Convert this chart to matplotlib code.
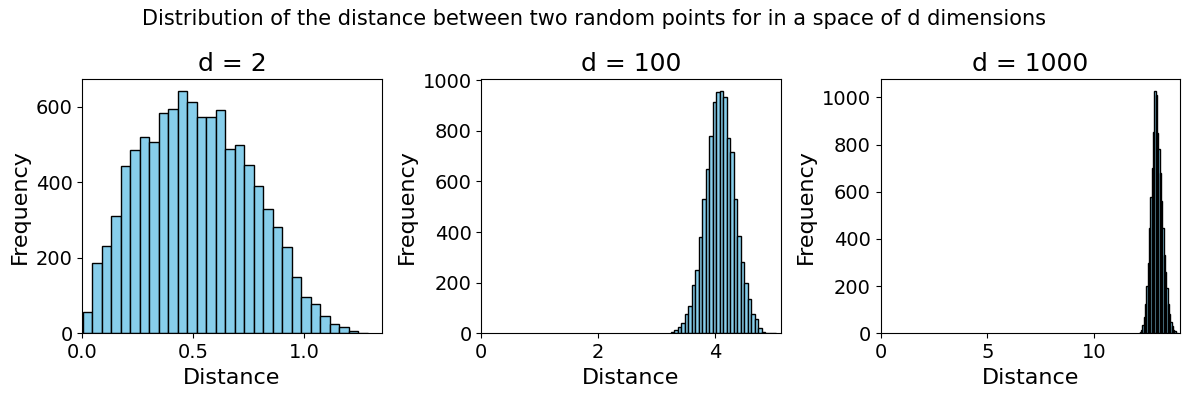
import numpy as np
import matplotlib
matplotlib.use("Agg")
import matplotlib.pyplot as plt

dims = [2, 100, 1000]

counts_d2 = [57, 187, 232, 312, 443, 487, 520, 506, 584, 594,
             642, 614, 574, 574, 591, 489, 500, 445, 391, 330,
             282, 229, 150, 97, 78, 47, 25, 17, 5, 2]
range_d2 = (0.002, 1.287)

counts_d100 = [4, 13, 24, 40, 75, 107, 191, 249, 382, 531,
               649, 781, 914, 953, 957, 934, 770, 716, 529, 384,
               282, 200, 136, 75, 58, 21, 4, 3, 2, 1]
range_d100 = (3.245, 5.035)

counts_d1000 = [3, 5, 15, 35, 70, 125, 200, 300, 445, 580,
                702, 854, 1027, 1010, 850, 780, 680, 560, 445, 330,
                260, 190, 125, 80, 50, 30, 15, 8, 3, 2]
range_d1000 = (12.08, 13.94)

all_counts = [counts_d2, counts_d100, counts_d1000]
all_ranges = [range_d2, range_d100, range_d1000]

W, H = 1189, 397
fig = plt.figure(figsize=(W / 100, H / 100), dpi=100)
lefts = [82.3, 481.3, 880.7]
width = 299.5
bottom = (H - 333.3) / H
height = 254.3 / H

for i, (d, counts, (lo, hi)) in enumerate(zip(dims, all_counts, all_ranges)):
    ax = fig.add_axes([lefts[i] / W, bottom, width / W, height])
    edges = np.linspace(lo, hi, len(counts) + 1)
    ax.hist(edges[:-1], bins=edges, weights=counts, color='skyblue', edgecolor='black')
    ax.set_xlim(left=0)
    ax.set_title(f"d = {d}", fontsize=18)
    ax.set_xlabel("Distance", fontsize=16)
    ax.set_ylabel("Frequency", fontsize=16)
    ax.tick_params(labelsize=14)

fig.suptitle("Distribution of the distance between two random points for in a space of d dimensions",
             fontsize=15, y=1 - 19 / H, va='center')

fig.savefig("out.png", dpi=100)
